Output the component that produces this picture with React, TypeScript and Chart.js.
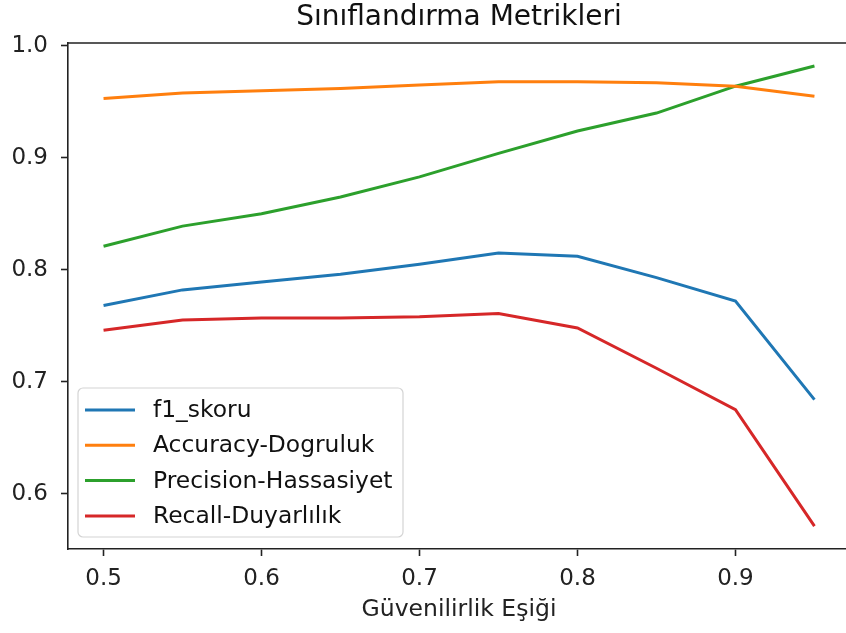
import React, { useEffect, useRef } from "react";
import { Chart, registerables } from "chart.js";

Chart.register(...registerables);

const thresholds = [0.5, 0.55, 0.6, 0.65, 0.7, 0.75, 0.8, 0.85, 0.9, 0.95];
const f1Skoru = [0.768, 0.782, 0.789, 0.796, 0.805, 0.815, 0.812, 0.793, 0.772, 0.684];
const accuracyDogruluk = [0.953, 0.958, 0.96, 0.962, 0.965, 0.968, 0.968, 0.967, 0.964, 0.955];
const precisionHassasiyet = [0.821, 0.839, 0.85, 0.865, 0.883, 0.904, 0.924, 0.94, 0.964, 0.982];
const recallDuyarlilik = [0.746, 0.755, 0.757, 0.757, 0.758, 0.761, 0.748, 0.712, 0.675, 0.571];

const seriesLabels = ["f1_skoru", "Accuracy-Dogruluk", "Precision-Hassasiyet", "Recall-Duyarlılık"];
const seriesColors = ["#1f77b4", "#ff7f0e", "#2ca02c", "#d62728"];
const xTickValues = [0.5, 0.6, 0.7, 0.8, 0.9];
const yTickValues = [0.6, 0.7, 0.8, 0.9, 1.0];
const titleText = "Sınıflandırma Metrikleri";
const xAxisTitle = "Güvenilirlik Eşiği";

const FONT = "'DejaVu Sans', sans-serif";
const INK = "#222222";

const boxLegend = {
  id: "boxLegend",
  afterDraw(chart: any) {
    const { ctx, chartArea } = chart;
    ctx.save();
    // title centred over the plot area (matplotlib style)
    ctx.font = `28px ${FONT}`;
    ctx.fillStyle = "#111111";
    ctx.textAlign = "center";
    ctx.textBaseline = "middle";
    ctx.fillText(titleText, (chartArea.left + chartArea.right) / 2, 18);

    // top & right spines
    ctx.strokeStyle = INK;
    ctx.lineWidth = 1.6;
    ctx.beginPath();
    ctx.moveTo(chartArea.left, chartArea.top);
    ctx.lineTo(chartArea.right, chartArea.top);
    ctx.lineTo(chartArea.right, chartArea.bottom);
    ctx.stroke();

    const x = chartArea.left + 10;
    const w = 325;
    const h = 149;
    const y = chartArea.bottom - 12 - h;
    const r = 5;
    ctx.beginPath();
    ctx.moveTo(x + r, y);
    ctx.lineTo(x + w - r, y);
    ctx.arcTo(x + w, y, x + w, y + r, r);
    ctx.lineTo(x + w, y + h - r);
    ctx.arcTo(x + w, y + h, x + w - r, y + h, r);
    ctx.lineTo(x + r, y + h);
    ctx.arcTo(x, y + h, x, y + h - r, r);
    ctx.lineTo(x, y + r);
    ctx.arcTo(x, y, x + r, y, r);
    ctx.closePath();
    ctx.fillStyle = "rgba(255,255,255,0.8)";
    ctx.fill();
    ctx.strokeStyle = "#d4d4d4";
    ctx.lineWidth = 1.2;
    ctx.stroke();

    ctx.font = `23.4px ${FONT}`;
    ctx.textBaseline = "middle";
    ctx.textAlign = "left";
    chart.data.datasets.forEach((ds: any, i: number) => {
      const ly = y + 22 + i * 35.3;
      ctx.strokeStyle = ds.borderColor;
      ctx.lineWidth = 3;
      ctx.lineCap = "butt";
      ctx.beginPath();
      ctx.moveTo(x + 7, ly);
      ctx.lineTo(x + 57, ly);
      ctx.stroke();
      ctx.fillStyle = "#111111";
      ctx.fillText(ds.label, x + 75, ly + 1);
    });
    ctx.restore();
  },
};

export default function App() {
  const canvasRef = useRef<HTMLCanvasElement | null>(null);

  useEffect(() => {
    if (!canvasRef.current) return;
    const series = [f1Skoru, accuracyDogruluk, precisionHassasiyet, recallDuyarlilik];
    const chart = new Chart(canvasRef.current, {
      type: "line",
      data: {
        datasets: series.map((vals, i) => ({
          label: seriesLabels[i],
          data: thresholds.map((t, j) => ({ x: t, y: vals[j] })),
          borderColor: seriesColors[i],
          backgroundColor: seriesColors[i],
          borderWidth: 3,
          pointRadius: 0,
          tension: 0,
          fill: false,
        })),
      },
      options: {
        animation: false,
        responsive: false,
        devicePixelRatio: 1,
        layout: { padding: { left: 0, right: 2, top: 43, bottom: 0 } },
        plugins: {
          legend: { display: false },
          tooltip: { enabled: false },
          title: { display: false },
        },
        scales: {
          x: {
            type: "linear",
            min: 0.4775,
            max: 0.9725,
            afterBuildTicks: (scale: any) => {
              scale.ticks = xTickValues.map((v) => ({ value: v }));
            },
            afterFit: (scale: any) => {
              scale.height = 84;
            },
            grid: { drawOnChartArea: false, drawTicks: true, tickLength: 7, tickWidth: 1.6, color: INK },
            border: { display: true, color: INK, width: 1.6 },
            ticks: {
              color: "#222222",
              font: { family: FONT, size: 23 },
              padding: 9,
              maxRotation: 0,
              autoSkip: false,
              callback: (v: any) => Number(v).toFixed(1),
            },
            title: {
              display: true,
              text: xAxisTitle,
              color: "#222222",
              font: { family: FONT, size: 23.5 },
              padding: { top: 0, bottom: 8.9 },
            },
          },
          y: {
            type: "linear",
            min: 0.5505,
            max: 1.0026,
            afterBuildTicks: (scale: any) => {
              scale.ticks = yTickValues.map((v) => ({ value: v }));
            },
            afterFit: (scale: any) => {
              scale.width = 68;
            },
            grid: { drawOnChartArea: false, drawTicks: true, tickLength: 7, tickWidth: 1.6, color: INK },
            border: { display: true, color: INK, width: 1.6 },
            ticks: {
              color: "#222222",
              font: { family: FONT, size: 23 },
              padding: 13,
              autoSkip: false,
              callback: (v: any) => Number(v).toFixed(1),
            },
          },
        },
      },
      plugins: [boxLegend],
    } as any);
    return () => chart.destroy();
  }, []);

  return (
    <div
      style={{
        position: "fixed",
        left: 0,
        top: 0,
        width: 846,
        height: 633,
        overflow: "hidden",
        background: "#ffffff",
      }}
    >
      <canvas ref={canvasRef} width={852} height={633} style={{ width: 852, height: 633, display: "block" }} />
    </div>
  );
}
